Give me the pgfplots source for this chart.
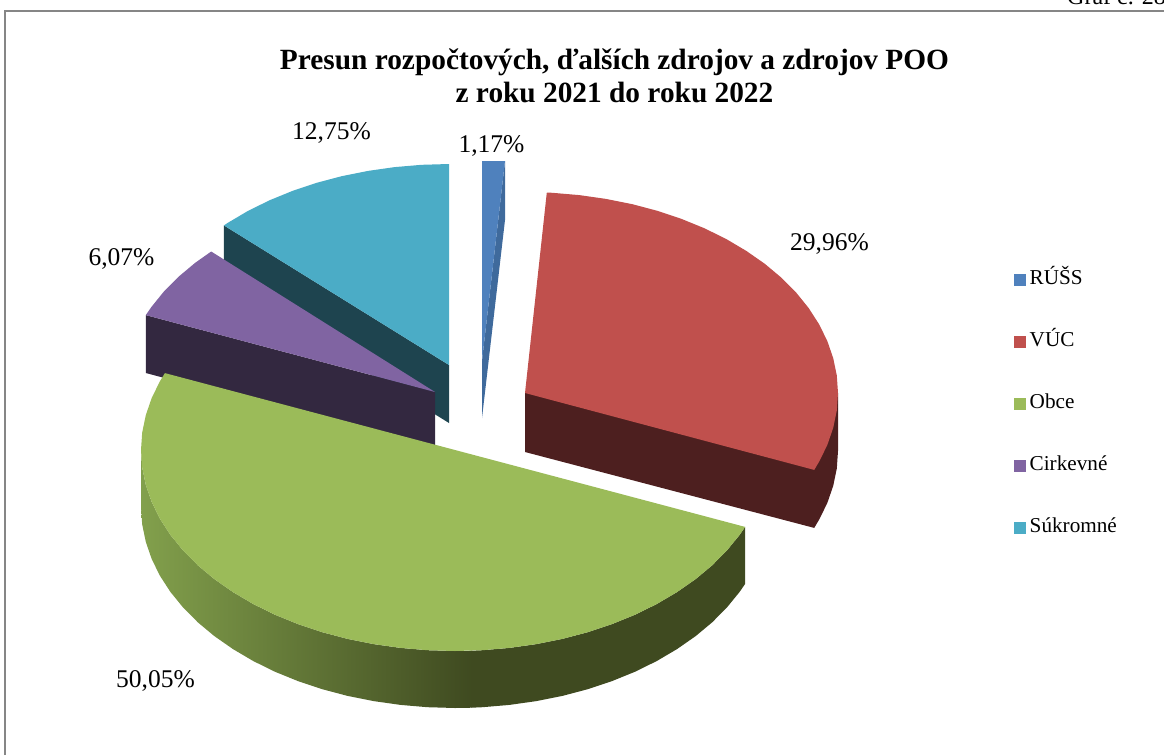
\documentclass[border=0pt]{standalone}
\usepackage{fontspec}
\setmainfont{Liberation Serif}
\usepackage{pgfplots}
\pgfplotsset{compat=1.18}
\definecolor{cblue}{HTML}{4F81BD}
\definecolor{cbluedk}{HTML}{3F6A9C}
\definecolor{cred}{HTML}{C0504D}
\definecolor{creddk}{HTML}{4D1F1F}
\definecolor{cgreen}{HTML}{9BBB59}
\definecolor{cgreendk}{HTML}{3F4A20}
\definecolor{cgreenmd}{HTML}{82A04C}
\definecolor{cpurple}{HTML}{8064A2}
\definecolor{cpurpledk}{HTML}{332840}
\definecolor{cteal}{HTML}{4BACC6}
\definecolor{ctealdk}{HTML}{1E444F}
\definecolor{frame}{HTML}{868686}
\pgfplotsset{sl/.style={draw=none,forget plot}}
\begin{document}
\begin{tikzpicture}
\clip (0,0) rectangle (1164pt,755pt);
\begin{axis}[
    at={(0,0)}, anchor=south west,
    scale only axis, width=1164pt, height=755pt,
    xmin=0, xmax=1164, ymin=0, ymax=755,
    y dir=reverse,
    hide axis,
    clip mode=individual,
    legend cell align=left,
    legend style={at={(axis cs:1010.5,267)}, anchor=north west, draw=none, fill=none,
        font=\fontsize{21.2}{24}\selectfont, /tikz/row sep=42pt, /tikz/column sep=5pt,
        nodes={inner sep=0pt,text height=15pt,text depth=5pt}},
]
% frame
\addplot[forget plot,draw=frame,line width=2pt] coordinates {(5,755)(5,11)(1164,11)};

% teal
\addplot[sl,fill=ctealdk] coordinates {(223.9,225.4)(223.9,283.4)(449,423)(449,365)} -- cycle;
\addplot[sl,fill=cteal] coordinates {(449,365)(449,164)(421.7,164.8)(394.7,167.1)(368,170.9)(342,176.1)(316.7,182.8)(292.5,190.9)(269.5,200.3)(247.8,211)(227.7,222.9)(223.9,225.4)} -- cycle;

% blue
\addplot[sl,fill=cbluedk] coordinates {(505,161)(505,220)(482,418)(482,361)} -- cycle;
\addplot[sl,fill=cblue] coordinates {(482,361)(482,161)(505,161)} -- cycle;

% red
\addplot[sl,fill=creddk] coordinates {(525,393)(525,452)(814.2,527.9)(819.1,519.7)(827.3,503)(833.2,485.9)(836.8,468.5)(838,451)(838,393)} -- cycle;
\addplot[sl,fill=cred] coordinates {(525,393)(546.8,192.5)(552.3,192.8)(579.3,195.1)(606,198.9)(632,204.1)(657.3,210.8)(681.5,218.9)(704.5,228.3)(726.2,239)(746.3,250.9)(764.8,263.8)(781.4,277.7)(796.1,292.5)(808.7,308.1)(819.1,324.3)(827.3,341)(833.2,358.1)(836.8,375.5)(838,393)(836.8,410.5)(833.2,427.9)(827.3,445)(819.1,461.7)(814.2,469.9)} -- cycle;

% purple
\addplot[sl,fill=cpurpledk] coordinates {(145.8,315.1)(145.8,373)(435,450)(435,392)} -- cycle;
\addplot[sl,fill=cpurple] coordinates {(435,392)(211.2,251.5)(195.2,262.8)(178.6,276.7)(163.9,291.5)(151.3,307.1)(145.8,315.1)} -- cycle;

% green
\addplot[sl,fill=cgreendk] coordinates {(745.1,526.9)(745.1,583.9)(739.6,591.9)(726.9,607.5)(712.2,622.3)(695.5,636.2)(677,649.1)(656.8,661)(635.1,671.7)(612,681.1)(587.7,689.2)(562.4,695.9)(536.3,701.1)(509.5,704.9)(482.4,707.2)(471.4,707.7)(471.4,650.7)(482.4,650.2)(509.5,647.9)(536.3,644.1)(562.4,638.9)(587.7,632.2)(612,624.1)(635.1,614.7)(656.8,604)(677,592.1)(695.5,579.2)(712.2,565.3)(726.9,550.5)(739.6,534.9)} -- cycle;
\addplot[sl,left color=cgreenmd,right color=cgreendk] coordinates {(472,650.7)(472,707.7)(455,708)(427.6,707.2)(400.5,704.9)(373.7,701.1)(347.6,695.9)(322.3,689.2)(298,681.1)(274.9,671.7)(253.2,661)(233,649.1)(214.5,636.2)(197.8,622.3)(183.1,607.5)(170.4,591.9)(159.9,575.7)(151.7,559)(145.8,541.9)(142.2,524.5)(141,507)(141,450)(142.2,467.5)(145.8,484.9)(151.7,502)(159.9,518.7)(170.4,534.9)(183.1,550.5)(197.8,565.3)(214.5,579.2)(233,592.1)(253.2,604)(274.9,614.7)(298,624.1)(322.3,632.2)(347.6,638.9)(373.7,644.1)(400.5,647.9)(427.6,650.2)(455,651)} -- cycle;
\addplot[sl,fill=cgreen] coordinates {(745.1,526.9)(739.6,534.9)(726.9,550.5)(712.2,565.3)(695.5,579.2)(677,592.1)(656.8,604)(635.1,614.7)(612,624.1)(587.7,632.2)(562.4,638.9)(536.3,644.1)(509.5,647.9)(482.4,650.2)(455,651)(427.6,650.2)(400.5,647.9)(373.7,644.1)(347.6,638.9)(322.3,632.2)(298,624.1)(274.9,614.7)(253.2,604)(233,592.1)(214.5,579.2)(197.8,565.3)(183.1,550.5)(170.4,534.9)(159.9,518.7)(151.7,502)(145.8,484.9)(142.2,467.5)(141,450)(142.2,432.5)(145.8,415.1)(151.7,398)(159.9,381.3)(164.9,373.1)} -- cycle;

% legend
\addlegendimage{only marks,mark=square*,mark size=5.5pt,color=cblue}
\addlegendentry{RÚŠS}
\addlegendimage{only marks,mark=square*,mark size=5.5pt,color=cred}
\addlegendentry{VÚC}
\addlegendimage{only marks,mark=square*,mark size=5.5pt,color=cgreen}
\addlegendentry{Obce}
\addlegendimage{only marks,mark=square*,mark size=5.5pt,color=cpurple}
\addlegendentry{Cirkevné}
\addlegendimage{only marks,mark=square*,mark size=5.5pt,color=cteal}
\addlegendentry{Súkromné}

% title and labels
\node[align=center,font=\fontsize{29.35}{33}\selectfont\bfseries] at (axis cs:614.5,76) {Presun rozpočtových, ďalších zdrojov a zdrojov POO\\z roku 2021 do roku 2022};
\node[anchor=base west,inner sep=0pt,font=\fontsize{24}{26}\selectfont] at (axis cs:1067,4) {Graf č. 28};
\node[font=\fontsize{25.5}{28}\selectfont] at (axis cs:331.5,133) {12,75\%};
\node[font=\fontsize{25.5}{28}\selectfont] at (axis cs:491.5,146) {1,17\%};
\node[font=\fontsize{25.5}{28}\selectfont] at (axis cs:829.5,244) {29,96\%};
\node[font=\fontsize{25.5}{28}\selectfont] at (axis cs:121.5,259) {6,07\%};
\node[font=\fontsize{25.5}{28}\selectfont] at (axis cs:155.5,681) {50,05\%};
\end{axis}
\end{tikzpicture}
\end{document}
